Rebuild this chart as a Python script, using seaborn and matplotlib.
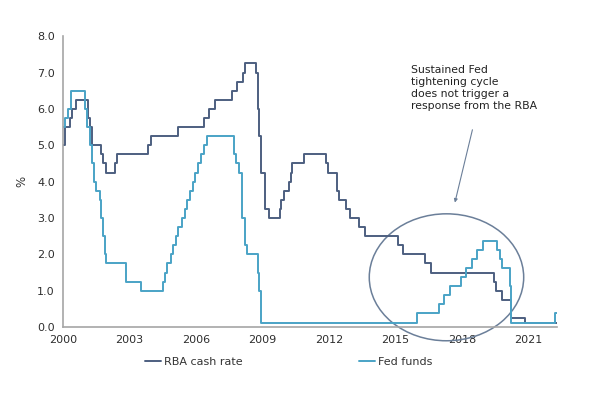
import pandas as pd
import seaborn as sns
import matplotlib.pyplot as plt
from matplotlib.patches import Ellipse

sns.set_theme(style="white")
plt.rcParams['font.family'] = ['DejaVu Sans']

# policy rate changes (decimal year of change, new level in %)
rba_dates = [2000.0, 2000.1, 2000.3, 2000.4, 2000.6, 2001.1, 2001.2, 2001.3, 2001.7, 2001.8,
             2001.95, 2002.35, 2002.45, 2003.85, 2003.95, 2005.2, 2006.35, 2006.6, 2006.85,
             2007.6, 2007.85, 2008.1, 2008.2, 2008.7, 2008.8, 2008.85, 2008.95, 2009.1, 2009.3,
             2009.8, 2009.85, 2009.95, 2010.2, 2010.3, 2010.35, 2010.85, 2011.85, 2011.95,
             2012.35, 2012.45, 2012.75, 2012.95, 2013.35, 2013.6, 2015.1, 2015.35, 2016.35,
             2016.6, 2019.45, 2019.55, 2019.8, 2020.2, 2020.85]
rba_rates = [5.0, 5.5, 5.75, 6.0, 6.25, 5.75, 5.5, 5.0, 4.75, 4.5,
             4.25, 4.5, 4.75, 5.0, 5.25, 5.5, 5.75, 6.0, 6.25,
             6.5, 6.75, 7.0, 7.25, 7.0, 6.0, 5.25, 4.25, 3.25, 3.0,
             3.25, 3.5, 3.75, 4.0, 4.25, 4.5, 4.75, 4.5, 4.25,
             3.75, 3.5, 3.25, 3.0, 2.75, 2.5, 2.25, 2.0, 1.75,
             1.5, 1.25, 1.0, 0.75, 0.25, 0.1]

fed_dates = [2000.0, 2000.1, 2000.2, 2000.35, 2001.0, 2001.08, 2001.2, 2001.3, 2001.4, 2001.5,
             2001.65, 2001.72, 2001.8, 2001.87, 2001.95, 2002.85, 2003.5, 2004.5, 2004.6,
             2004.7, 2004.85, 2004.95, 2005.1, 2005.2, 2005.35, 2005.5, 2005.6, 2005.72,
             2005.85, 2005.95, 2006.1, 2006.22, 2006.35, 2006.5, 2007.7, 2007.8, 2007.95,
             2008.05, 2008.08, 2008.2, 2008.3, 2008.78, 2008.83, 2008.95, 2015.95, 2016.95,
             2017.2, 2017.45, 2017.95, 2018.2, 2018.45, 2018.7, 2018.95, 2019.58, 2019.7,
             2019.8, 2020.17, 2020.21, 2022.2]
fed_rates = [5.5, 5.75, 6.0, 6.5, 6.0, 5.5, 5.0, 4.5, 4.0, 3.75,
             3.5, 3.0, 2.5, 2.0, 1.75, 1.25, 1.0, 1.25, 1.5,
             1.75, 2.0, 2.25, 2.5, 2.75, 3.0, 3.25, 3.5, 3.75,
             4.0, 4.25, 4.5, 4.75, 5.0, 5.25, 4.75, 4.5, 4.25,
             3.5, 3.0, 2.25, 2.0, 1.5, 1.0, 0.125, 0.375, 0.625,
             0.875, 1.125, 1.375, 1.625, 1.875, 2.125, 2.375, 2.125, 1.875,
             1.625, 1.125, 0.125, 0.375]

end_date = 2022.3
year_ticks = [2000, 2003, 2006, 2009, 2012, 2015, 2018, 2021]

rba_color = "#4d5f80"
fed_color = "#4aa3c6"

rba_df = pd.DataFrame({"date": rba_dates + [end_date], "rate": rba_rates + [rba_rates[-1]]})
fed_df = pd.DataFrame({"date": fed_dates + [end_date], "rate": fed_rates + [fed_rates[-1]]})

fig = plt.figure(figsize=(5.96, 3.97), dpi=100)
ax = fig.add_axes([0.106, 0.176, 0.829, 0.733])

sns.lineplot(data=rba_df, x="date", y="rate", drawstyle="steps-post", color=rba_color,
             lw=1.4, label="RBA cash rate", ax=ax)
sns.lineplot(data=fed_df, x="date", y="rate", drawstyle="steps-post", color=fed_color,
             lw=1.4, label="Fed funds", ax=ax)

ax.set_xlim(2000, end_date)
ax.set_ylim(0, 8)
ax.set_xticks(year_ticks)
ax.set_xticklabels([str(y) for y in year_ticks])
ax.set_yticks(range(0, 9))
ax.set_yticklabels([f"{v:.1f}" for v in range(0, 9)])
ax.set_xlabel("")
ax.set_ylabel("%", fontsize=8.5, color="#333333", labelpad=6)

for side in ["top", "right"]:
    ax.spines[side].set_visible(False)
for side in ["left", "bottom"]:
    ax.spines[side].set_color("#a6a6a6")
    ax.spines[side].set_linewidth(1.2)
ax.tick_params(axis="both", direction="out", length=3, width=1, color="#a6a6a6",
               labelsize=8, labelcolor="#2e2e2e", pad=3)

# highlight the 2016-2019 Fed cycle
ell = Ellipse((2017.3, 1.37), 6.97, 3.49, fill=False, ec="#6b7f99", lw=1.1, clip_on=False)
ax.add_patch(ell)
ax.annotate("", xy=(2017.65, 3.35), xytext=(2018.5, 5.5),
            arrowprops=dict(arrowstyle="-|>", color="#6b7f99", lw=0.8, mutation_scale=5))
ax.text(2015.7, 7.2,
        "Sustained Fed\ntightening cycle\ndoes not trigger a\nresponse from the RBA",
        fontsize=7.8, color="#222222", va="top", ha="left", linespacing=1.25)

ax.get_legend().remove()
handles, labels = ax.get_legend_handles_labels()
fig.legend(handles, labels, loc="center", bbox_to_anchor=(289 / 596, 1 - 362 / 397),
           ncol=2, frameon=False, fontsize=8, handlelength=1.4, handletextpad=0.3,
           columnspacing=10.5, labelcolor="#333333")

fig.savefig("out.png", dpi=100)
